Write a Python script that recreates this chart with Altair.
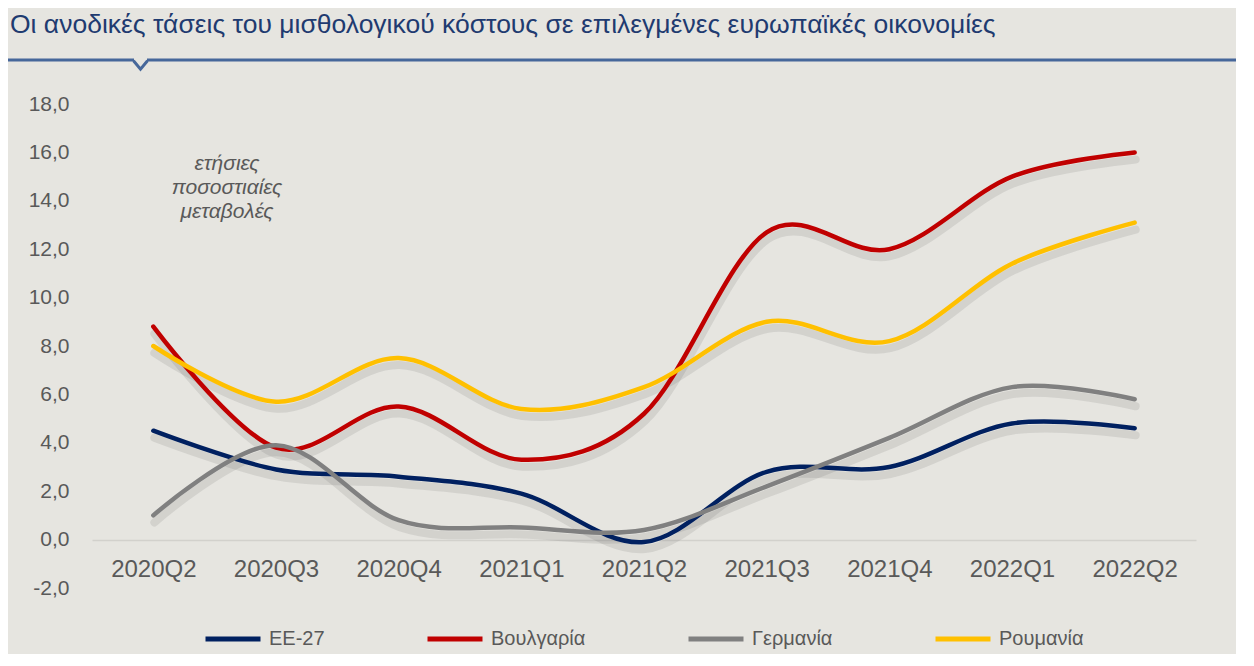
import altair as alt
import pandas as pd

# ---- data ----
quarters = ["2020Q2", "2020Q3", "2020Q4", "2021Q1", "2021Q2",
            "2021Q3", "2021Q4", "2022Q1", "2022Q2"]
series_names = ["EE-27", "Βουλγαρία", "Γερμανία", "Ρουμανία"]
ee27 = [4.5, 2.9, 2.6, 1.9, -0.1, 2.8, 3.0, 4.8, 4.6]
bulgaria = [8.8, 3.8, 5.5, 3.3, 5.2, 12.7, 12.0, 15.0, 16.0]
germany = [1.0, 3.9, 0.8, 0.5, 0.4, 2.2, 4.2, 6.3, 5.8]
romania = [8.0, 5.7, 7.5, 5.4, 6.3, 9.0, 8.2, 11.4, 13.1]
series_colors = ["#002060", "#C00000", "#808080", "#FFC000"]
y_ticks = [-2, 0, 2, 4, 6, 8, 10, 12, 14, 16, 18]
title_text = "Οι ανοδικές τάσεις του μισθολογικού κόστους σε επιλεγμένες ευρωπαϊκές οικονομίες"
note_lines = ["ετήσιες", "ποσοστιαίες", "μεταβολές"]

rows = []
for name, vals in zip(series_names, [ee27, bulgaria, germany, romania]):
    for q, v in zip(quarters, vals):
        rows.append({"quarter": q, "value": v, "series": name})
df = pd.DataFrame(rows)

BG = "#E6E5E0"
LABEL = "#595959"
FONT = "Liberation Sans"
W, H = 1104, 484

x_enc = alt.X(
    "quarter:N", sort=quarters, scale=alt.Scale(padding=0.5),
    axis=alt.Axis(title=None, labelAngle=0, labelFontSize=24, labelColor=LABEL,
                  labelFont=FONT, ticks=False, grid=False, domain=True,
                  domainColor="#D2D1CC", domainWidth=1.5, offset=-48,
                  labelPadding=17),
)
y_enc = alt.Y(
    "value:Q", scale=alt.Scale(domain=[-2, 18], nice=False, zero=False),
    axis=alt.Axis(title=None, values=y_ticks, grid=False, domain=False, ticks=False,
                  labelExpr="replace(replace(format(datum.value, '.1f'), '.', ','), '\u2212', '-')",
                  labelFontSize=21, labelColor=LABEL, labelFont=FONT,
                  labelPadding=23),
)

base = alt.Chart(df)

shadow = base.mark_line(
    interpolate="cardinal", tension=0, strokeWidth=8, color="#4a4a4a",
    opacity=0.12, yOffset=7, xOffset=1, strokeCap="round",
).encode(x=x_enc, y=y_enc, detail="series:N")

lines = base.mark_line(
    interpolate="cardinal", tension=0, strokeWidth=4.5, strokeCap="round",
).encode(
    x=x_enc, y=y_enc,
    color=alt.Color(
        "series:N",
        scale=alt.Scale(domain=series_names, range=series_colors),
        legend=alt.Legend(
            title=None, orient="none", legendX=111, legendY=505,
            direction="horizontal", columns=4, symbolType="stroke",
            symbolSize=3025, symbolStrokeWidth=5, labelFontSize=20,
            labelColor=LABEL, labelFont=FONT, labelOffset=6,
            columnPadding=92,
        ),
    ),
)

note = alt.Chart(pd.DataFrame({"t": ["\n".join(note_lines)]})).mark_text(
    align="center", baseline="alphabetic", fontSize=21, fontStyle="italic",
    color=LABEL, font=FONT, lineBreak="\n", lineHeight=24,
).encode(text="t:N", x=alt.value(135), y=alt.value(66))

deco = alt.Chart(pd.DataFrame({"a": [0]}))
rule_left = deco.mark_rule(color="#46679A", strokeWidth=3).encode(
    x=alt.value(-84), x2=alt.value(42), y=alt.value(-44))
rule_right = deco.mark_rule(color="#46679A", strokeWidth=3).encode(
    x=alt.value(55), x2=alt.value(1156), y=alt.value(-44))
notch = deco.mark_point(
    shape="M -1 -0.6 L 0 0.6 L 1 -0.6", filled=False, color="#46679A",
    strokeWidth=3, size=196, opacity=1,
).encode(x=alt.value(48.5), y=alt.value(-39))

chart = alt.layer(shadow, lines, note, rule_left, rule_right, notch).properties(
    width=W, height=H,
    autosize=alt.AutoSizeParams(type="none"),
    padding={"left": 84, "top": 96, "right": 40, "bottom": 66},
    title=alt.TitleParams(
        text=title_text, anchor="start", frame="group", dx=-82, offset=24,
        dy=29, fontSize=26.5, font=FONT, fontWeight="normal", color="#1F3B70",
        baseline="alphabetic",
    ),
).configure(background=BG).configure_view(stroke=None)

chart.save("out.html", embed_options={"renderer": "svg", "actions": False})
